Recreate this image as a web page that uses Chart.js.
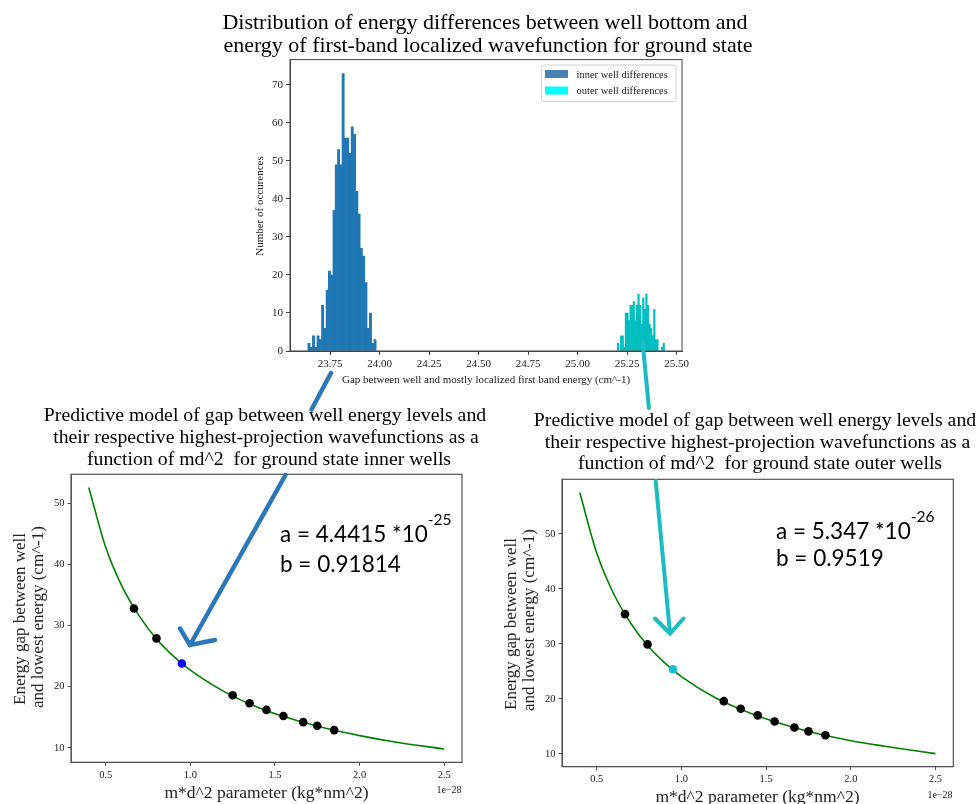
<!DOCTYPE html>
<html>
<head>
<meta charset="utf-8">
<script src="https://cdn.jsdelivr.net/npm/chart.js@4/dist/chart.umd.min.js"></script>
<style>
  html, body { margin: 0; padding: 0; background: #fff; }
  #page { position: relative; width: 977px; height: 804px; overflow: hidden; background: #fff; }
  canvas { position: absolute; }
  #overlay { position: absolute; left: 0; top: 0; pointer-events: none; }
  #overlay text { white-space: pre; }
</style>
</head>
<body>
<div id="page">
  <canvas id="hist" width="460" height="320" style="left:235px;top:50px;width:460px;height:320px"></canvas>
  <canvas id="inner" width="430" height="320" style="left:41px;top:465px;width:430px;height:320px"></canvas>
  <canvas id="outer" width="430" height="320" style="left:532px;top:470px;width:430px;height:320px"></canvas>

  <svg id="overlay" width="977" height="804" xmlns="http://www.w3.org/2000/svg">
    <g font-family="'Liberation Serif', 'Times New Roman', serif" fill="#000">
      <!-- histogram title and axis labels -->
      <text x="485" y="28.5" font-size="22" text-anchor="middle">Distribution of energy differences between well bottom and</text>
      <text x="488" y="51.5" font-size="22" text-anchor="middle">energy of first-band localized wavefunction for ground state</text>
      <text x="486" y="383" font-size="11" text-anchor="middle" fill="#222">Gap between well and mostly localized first band energy (cm^-1)</text>
      <text transform="translate(263,206) rotate(-90)" font-size="11" text-anchor="middle" fill="#222">Number of occurences</text>

      <!-- legend -->
      <rect x="541.5" y="65" width="134.5" height="36.5" rx="3" fill="#fff" fill-opacity="0.85" stroke="#d0d0d0" stroke-width="1"/>
      <rect x="545" y="70" width="23" height="8" fill="steelblue"/>
      <rect x="545" y="86.5" width="23" height="8" fill="cyan"/>
      <text x="576.5" y="77.8" font-size="10.5" fill="#222">inner well differences</text>
      <text x="576.5" y="94.3" font-size="10.5" fill="#222">outer well differences</text>

      <!-- inner-well model title and axis labels -->
      <text x="265" y="421" font-size="19.8" text-anchor="middle">Predictive model of gap between well energy levels and</text>
      <text x="266" y="443" font-size="19.8" text-anchor="middle">their respective highest-projection wavefunctions as a</text>
      <text x="269" y="464.5" font-size="19.8" text-anchor="middle">function of md^2  for ground state inner wells</text>
      <text transform="translate(24.5,619) rotate(-90)" font-size="17" text-anchor="middle" fill="#222">Energy gap between well</text>
      <text transform="translate(42.5,617) rotate(-90)" font-size="17" text-anchor="middle" fill="#222">and lowest energy (cm^-1)</text>
      <text x="266.5" y="797.5" font-size="17.5" text-anchor="middle" fill="#222">m*d^2 parameter (kg*nm^2)</text>
      <text x="461.5" y="793" font-size="10" text-anchor="end" fill="#222">1e−28</text>

      <!-- outer-well model title and axis labels -->
      <text x="755" y="426" font-size="19.8" text-anchor="middle">Predictive model of gap between well energy levels and</text>
      <text x="757.5" y="448" font-size="19.8" text-anchor="middle">their respective highest-projection wavefunctions as a</text>
      <text x="760" y="469" font-size="19.8" text-anchor="middle">function of md^2  for ground state outer wells</text>
      <text transform="translate(516,624) rotate(-90)" font-size="17" text-anchor="middle" fill="#222">Energy gap between well</text>
      <text transform="translate(534,620) rotate(-90)" font-size="17" text-anchor="middle" fill="#222">and lowest energy (cm^-1)</text>
      <text x="757.5" y="802" font-size="17.5" text-anchor="middle" fill="#222">m*d^2 parameter (kg*nm^2)</text>
      <text x="952.5" y="798" font-size="10" text-anchor="end" fill="#222">1e−28</text>
    </g>

    <!-- fitted parameters -->
    <g font-family="Lato, 'Open Sans', sans-serif" fill="#000">
      <text x="280" y="542" font-size="22.5">a = 4.4415 *10<tspan dy="-17" font-size="15.5">-25</tspan></text>
      <text x="280" y="571.5" font-size="22.5">b = 0.91814</text>
      <text x="776" y="539" font-size="22.5">a = 5.347 *10<tspan dy="-17.5" font-size="15.5">-26</tspan></text>
      <text x="776" y="565.5" font-size="22.5">b = 0.9519</text>
    </g>

    <!-- arrows linking the histogram groups to the highlighted points -->
    <g fill="none" stroke="#2b78b8" stroke-width="4.5" stroke-linecap="round" stroke-linejoin="miter">
      <line x1="331" y1="373" x2="311.5" y2="409.5"/>
      <line x1="285.5" y1="475" x2="190" y2="645"/>
      <polyline points="180,628.5 190,645 215,640"/>
    </g>
    <g fill="none" stroke="#1cbcc3" stroke-width="4" stroke-linecap="round" stroke-linejoin="miter">
      <line x1="642.5" y1="341" x2="648.9" y2="408"/>
      <line x1="655.7" y1="481" x2="670" y2="633"/>
      <polyline points="655,618.5 670,633.5 683.5,618.5"/>
    </g>
  </svg>
</div>

<script>
// ---- histogram of energy gaps (30 bins per well type) ----
const innerRange = [23.638, 23.983];
const innerCounts = [2, 1, 4, 1, 4, 3, 12, 6, 16, 21, 20, 37, 49, 53, 49,
                     73, 56, 56, 52, 59, 57, 42, 36, 27, 25, 18, 6, 10, 2, 3];
const outerRange = [25.200, 25.439];
const outerCounts = [2, 0, 4, 4, 1, 10, 10, 8, 12, 12, 13, 8, 12, 15, 12,
                     7, 14, 11, 15, 12, 7, 6, 4, 11, 3, 3, 0, 0, 1, 2];
const histXTicks = [23.75, 24.00, 24.25, 24.50, 24.75, 25.00, 25.25, 25.50];

// ---- fitted power-law curves (values along the drawn curve) ----
const curveX = [0.4, 0.5, 0.6, 0.7, 0.8, 0.9, 1.0, 1.2, 1.4, 1.6, 1.8, 2.0, 2.2, 2.5];
const innerCurveY = [52.6, 42.8, 36.2, 31.5, 27.8, 25.0, 22.7, 19.2, 16.6, 14.7, 13.2, 12.0, 11.0, 9.8];
const outerCurveY = [57.5, 46.5, 39.1, 33.8, 29.7, 26.6, 24.05, 20.2, 17.5, 15.4, 13.7, 12.4, 11.4, 10.05];

// ---- computed gaps for each m*d^2 (units of 1e-28 kg*nm^2) ----
const mdX = [0.667, 0.8, 1.25, 1.35, 1.45, 1.55, 1.667, 1.75, 1.85];
const innerGaps = [32.8, 27.9, 18.6, 17.3, 16.2, 15.2, 14.2, 13.6, 12.9];
const outerGaps = [35.4, 29.9, 19.6, 18.2, 17.0, 15.9, 14.8, 14.1, 13.4];
const highlightX = [0.95];
const innerHighlight = [23.8];
const outerHighlight = [25.4];

const SERIF = "'Liberation Serif', 'Times New Roman', serif";

function binPoints(range, counts) {
  const w = (range[1] - range[0]) / counts.length;
  return counts.map((c, i) => ({ x: range[0] + (i + 0.5) * w, y: c }));
}
function binWidth(range, counts) {
  return (range[1] - range[0]) / counts.length;
}
function pairs(xs, ys) {
  return xs.map((x, i) => ({ x: x, y: ys[i] }));
}

// full rectangular frame around the plot area (all four spines)
const framePlugin = {
  id: 'frame',
  afterDraw(chart, args, opts) {
    const a = chart.chartArea, ctx = chart.ctx;
    ctx.save();
    ctx.strokeStyle = opts.color || '#444';
    ctx.lineWidth = opts.width || 1;
    ctx.strokeRect(a.left, a.top, a.right - a.left, a.bottom - a.top);
    ctx.restore();
  }
};

// histogram bars: each bar spans exactly its bin [x - w/2, x + w/2] on the x scale
const binWidthPlugin = {
  id: 'binWidth',
  afterDatasetsUpdate(chart) {
    chart.data.datasets.forEach((ds, di) => {
      if (!ds.binWidth) return;
      const meta = chart.getDatasetMeta(di);
      const sc = chart.scales[meta.xAxisID];
      meta.data.forEach((el, i) => {
        const c = ds.data[i].x;
        const l = sc.getPixelForValue(c - ds.binWidth / 2);
        const r = sc.getPixelForValue(c + ds.binWidth / 2);
        el.x = (l + r) / 2;
        el.width = r - l;
      });
    });
  }
};

function axisStyle(color, fontSize, extra) {
  return Object.assign({
    offset: false,
    grid: { offset: false, drawOnChartArea: false, drawTicks: true, tickLength: 4, color: color },
    border: { display: true, color: color, width: 1 },
    ticks: {
      includeBounds: false, autoSkip: false, maxRotation: 0, minRotation: 0, padding: 3,
      color: '#222', font: { family: SERIF, size: fontSize }
    }
  }, extra);
}

Chart.defaults.animation = false;
Chart.defaults.devicePixelRatio = 1;

// histogram
(function () {
  const x = axisStyle('#444', 11, { type: 'linear', min: 23.548, max: 25.527 });
  x.ticks.stepSize = 0.25;
  x.ticks.callback = v => v.toFixed(2);
  x.afterBuildTicks = s => { s.ticks = histXTicks.map(v => ({ value: v })); };
  x.afterFit = s => { s.height = 19; };
  const y = axisStyle('#444', 11, { type: 'linear', min: 0, max: 76.65 });
  y.ticks.stepSize = 10;
  y.afterFit = s => { s.width = 55; };

  const barOpts = { barThickness: 1, grouped: false, borderWidth: 0, inflateAmount: 0.3 };
  new Chart(document.getElementById('hist'), {
    type: 'bar',
    data: {
      datasets: [
        Object.assign({ label: 'inner well differences', data: binPoints(innerRange, innerCounts),
                        binWidth: binWidth(innerRange, innerCounts), backgroundColor: '#1f77b4' }, barOpts),
        Object.assign({ label: 'outer well differences', data: binPoints(outerRange, outerCounts),
                        binWidth: binWidth(outerRange, outerCounts), backgroundColor: '#00bfbf' }, barOpts)
      ]
    },
    options: {
      responsive: false, events: [],
      layout: { padding: { top: 8, right: 13, left: 0, bottom: 0 } },
      plugins: { legend: { display: false }, tooltip: { enabled: false }, frame: { color: '#444', width: 1 } },
      scales: { x: x, y: y }
    },
    plugins: [binWidthPlugin, framePlugin]
  });
})();

// fitted model charts
function modelChart(id, curveY, gaps, hiY, hiColor, yRange, pad, xHeight) {
  const x = axisStyle('#555', 10.5, { type: 'linear', min: 0.295, max: 2.605 });
  x.ticks.stepSize = 0.5;
  x.ticks.callback = v => v.toFixed(1);
  x.grid.tickLength = 3.5;
  x.afterFit = s => { s.height = xHeight; };
  const y = axisStyle('#555', 10.5, { type: 'linear', min: yRange[0], max: yRange[1] });
  y.ticks.stepSize = 10;
  y.grid.tickLength = 3.5;
  y.afterFit = s => { s.width = 30; };

  new Chart(document.getElementById(id), {
    type: 'scatter',
    data: {
      datasets: [
        { data: pairs(highlightX, hiY), backgroundColor: hiColor, pointRadius: 4.3, borderWidth: 0, order: 1 },
        { data: pairs(mdX, gaps), backgroundColor: '#000', pointRadius: 4.3, borderWidth: 0, order: 2 },
        { data: pairs(curveX, curveY), showLine: true, borderColor: '#008000', borderWidth: 1.6,
          pointRadius: 0, cubicInterpolationMode: 'monotone', fill: false, order: 3 }
      ]
    },
    options: {
      responsive: false, events: [],
      layout: { padding: pad },
      plugins: { legend: { display: false }, tooltip: { enabled: false }, frame: { color: '#555', width: 1.2 } },
      scales: { x: x, y: y }
    },
    plugins: [framePlugin]
  });
}

modelChart('inner', innerCurveY, innerGaps, innerHighlight, '#0000ff', [7.63, 54.75],
           { top: 6, right: 9, left: 0, bottom: 0 }, 22.7);
modelChart('outer', outerCurveY, outerGaps, outerHighlight, '#17becf', [7.68, 59.9],
           { top: 6, right: 8.7, left: 0, bottom: 0 }, 23.3);
</script>
</body>
</html>
